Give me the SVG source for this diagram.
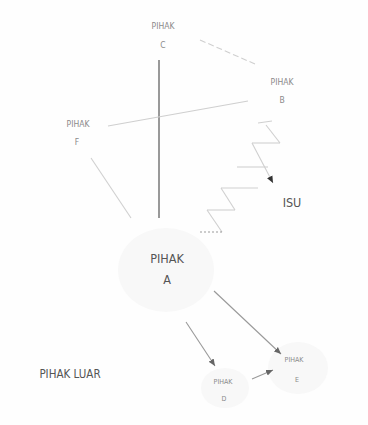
<svg xmlns="http://www.w3.org/2000/svg" width="368" height="425" viewBox="0 0 368 425">
<defs>
<style>
.t{font-family:"DejaVu Sans Condensed","DejaVu Sans",sans-serif;fill:#6a6a6a;text-anchor:middle}
.s{font-size:8.5px;fill:#8a8a8a}
.m{font-size:12.5px;fill:#555}
.x{font-size:7px;fill:#8a8a8a}
.faint{stroke:#cfcfcf;stroke-width:1.1;fill:none}
.mid{stroke:#999;stroke-width:1.1;fill:none}
.dark{stroke:#555;stroke-width:1.2;fill:none}
.blob{fill:#f8f8f8}
</style>
<marker id="ah" markerWidth="8" markerHeight="8" refX="7" refY="4" orient="auto" markerUnits="userSpaceOnUse">
<path d="M0,1 L7,4 L0,7 Z" fill="#666"/>
</marker>
<marker id="ahd" markerWidth="8" markerHeight="8" refX="7" refY="4" orient="auto" markerUnits="userSpaceOnUse">
<path d="M0,1 L7,4 L0,7 Z" fill="#333"/>
</marker>
</defs>
<rect width="368" height="425" fill="#fefefe"/>
<ellipse class="blob" cx="166" cy="270" rx="48" ry="42"/>
<ellipse class="blob" cx="298" cy="368" rx="30" ry="26"/>
<ellipse class="blob" cx="225" cy="388" rx="24" ry="20"/>
<g id="connectors">
<line class="dark" x1="159" y1="60" x2="159" y2="218"/>
<line class="faint" x1="200" y1="40" x2="255" y2="64" stroke-dasharray="6 3"/>
<line class="faint" x1="108" y1="126" x2="248" y2="101"/>
<line class="faint" x1="91" y1="158" x2="131" y2="218"/>
<g id="isu-zigzag">
<line class="faint" x1="258" y1="123" x2="272" y2="121"/>
<line class="faint" x1="266" y1="125" x2="280" y2="143"/>
<line class="faint" x1="280" y1="143" x2="252" y2="143"/>
<line class="faint" x1="252" y1="143" x2="273" y2="183" marker-end="url(#ahd)"/>
<line class="faint" x1="268" y1="167" x2="237" y2="167"/>
<line class="faint" x1="258" y1="188" x2="221" y2="188"/>
<line class="faint" x1="221" y1="188" x2="235" y2="210"/>
<line class="faint" x1="235" y1="210" x2="207" y2="210"/>
<line class="faint" x1="207" y1="210" x2="222" y2="232"/>
<line class="mid" x1="222" y1="232" x2="200" y2="232" stroke-dasharray="2 2"/>
</g>
<line class="mid" x1="214" y1="291" x2="281" y2="354" marker-end="url(#ah)"/>
<line class="mid" x1="186" y1="322" x2="215" y2="366" marker-end="url(#ah)"/>
<line class="mid" x1="252" y1="379" x2="273" y2="370" marker-end="url(#ah)"/>
</g>
<g id="node-c"><text class="t s" x="163" y="29">PIHAK</text><text class="t s" x="163" y="48">C</text></g>
<g id="node-b"><text class="t s" x="282" y="85">PIHAK</text><text class="t s" x="282" y="103">B</text></g>
<g id="node-f"><text class="t s" x="78" y="127">PIHAK</text><text class="t s" x="77" y="145">F</text></g>
<g id="node-isu"><text class="t m" x="292" y="207">ISU</text></g>
<g id="node-a"><text class="t m" x="167" y="263">PIHAK</text><text class="t m" x="167" y="284">A</text></g>
<g id="node-e"><text class="t x" x="294" y="362">PIHAK</text><text class="t x" x="297" y="382">E</text></g>
<g id="node-d"><text class="t x" x="223" y="384">PIHAK</text><text class="t x" x="224" y="401">D</text></g>
<g id="node-luar"><text class="t m" x="70" y="378" style="font-size:11.5px">PIHAK LUAR</text></g>
</svg>
